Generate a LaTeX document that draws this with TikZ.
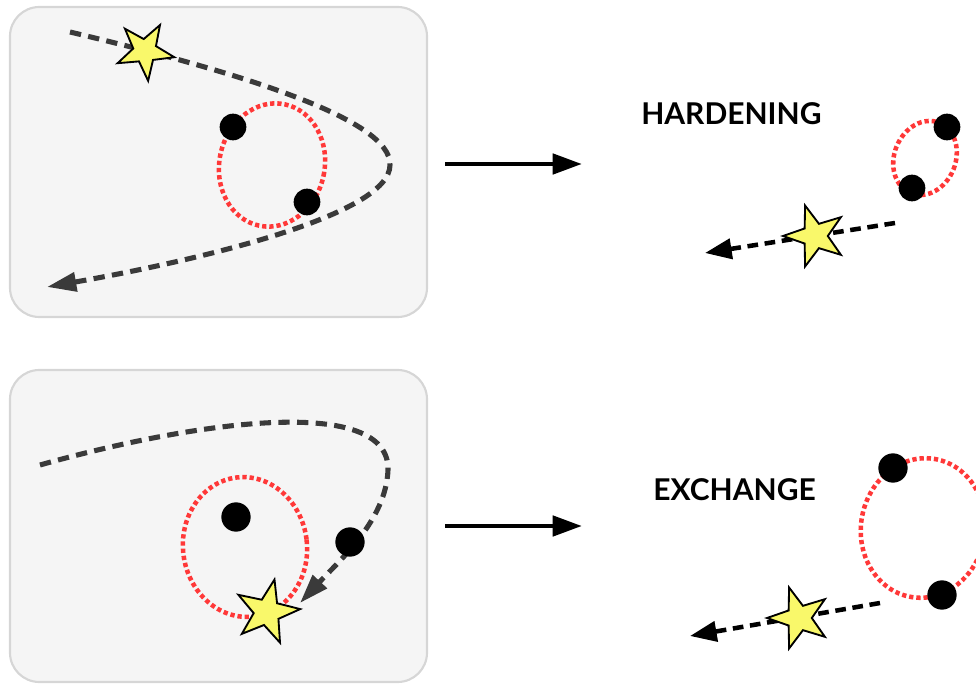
\documentclass[tikz,border=0pt]{standalone}
\usepackage{fontspec}
\setmainfont{Lato}
\usetikzlibrary{shapes.geometric,arrows.meta}

\definecolor{panelfill}{HTML}{F5F5F5}
\definecolor{panelline}{HTML}{D6D6D6}
\definecolor{pathgray}{HTML}{3A3A3A}
\definecolor{orbitred}{HTML}{FF3838}
\definecolor{staryellow}{HTML}{F9F86A}

\tikzset{
  panel/.style={fill=panelfill, draw=panelline, line width=1.6pt, rounded corners=22pt},
  orbit/.style={draw=orbitred, line width=3.4pt, dash pattern=on 3.2pt off 2.2pt, ellipse, inner sep=0pt},
  body/.style={circle, fill=black, inner sep=0pt, minimum size=#1},
  body/.default=20pt,
  intruder/.style={star, star points=5, star point ratio=2.5, draw=black, line width=1.4pt,
    fill=staryellow, inner sep=0pt, minimum size=#1},
  intruder/.default=44pt,
  track/.style={draw=pathgray, line width=3.8pt, dash pattern=on 8.5pt off 5.5pt,
    -{Triangle[length=22pt,width=14pt]}},
  escape/.style={draw=black, line width=3.4pt, dash pattern=on 8pt off 5pt,
    -{Triangle[length=20pt,width=15pt]}},
  outcome/.style={draw=black, line width=3.6pt, -{Triangle[length=22pt,width=15pt]}},
  caption/.style={font=\bfseries\fontsize{22.5}{26}\selectfont, inner sep=0pt}
}

\begin{document}
\begin{tikzpicture}[x=0.75pt,y=-0.75pt]
  \useasboundingbox (0,0) rectangle (976,684);
  \clip (0,0) rectangle (976,684);

  % ---- upper panel: fly-by of an intruder past a binary ----
  \draw[panel] (10,7) rectangle (427,317);
  \node[orbit, minimum width=79pt, minimum height=93pt, rotate=-12] (orbA) at (272,165) {};
  \node[body] (a1) at (233,127) {};
  \node[body] (a2) at (307,202) {};
  \coordinate (sA) at (70,32);
  \coordinate (tA) at (390,165);
  \coordinate (eA) at (47,287);
  \draw[track] (sA) .. controls (230,70) and (392,118) .. (tA)
               .. controls (390,215) and (200,260) .. (eA);
  \node[intruder=45pt, rotate=-30] (starA) at (145,51) {};

  % ---- lower panel: intruder captured into the binary ----
  \draw[panel] (10,370) rectangle (427,682);
  \node[orbit, minimum width=93pt, minimum height=105pt, rotate=7] (orbB) at (245,547) {};
  \node[body=22pt] (b1) at (236,517) {};
  \coordinate (sB) at (40,465);
  \coordinate (tB) at (388,470);
  \coordinate (eB) at (300,603);
  \draw[track] (sB) .. controls (200,420) and (390,395) .. (tB)
               .. controls (386,520) and (340,560) .. (eB);
  \node[body=22pt] (b2) at (350,542) {};
  \node[intruder=50pt, rotate=-13] (starB) at (267,612) {};

  % ---- arrows towards the outcomes ----
  \coordinate (fromA) at (445,164);
  \coordinate (toA) at (582,164);
  \draw[outcome] (fromA) -- (toA);
  \coordinate (fromB) at (445,526);
  \coordinate (toB) at (582,526);
  \draw[outcome] (fromB) -- (toB);

  % ---- outcome: hardening ----
  \node[caption, anchor=west] (lblA) at (641,114) {HARDENING};
  \node[orbit, minimum width=46pt, minimum height=57pt, rotate=-22] (orbC) at (925,158) {};
  \node[body] (c1) at (947,127) {};
  \node[body] (c2) at (912,188) {};
  \coordinate (sC) at (895,223);
  \coordinate (eC) at (705,253);
  \draw[escape] (sC) -- (eC);
  \node[intruder=48pt, rotate=18] (starC) at (815,236) {};

  % ---- outcome: exchange ----
  \node[caption, anchor=west] (lblB) at (653,490) {EXCHANGE};
  \node[orbit, minimum width=93pt, minimum height=105pt, rotate=-10] (orbD) at (923,528) {};
  \node[body=22pt] (d1) at (893,468) {};
  \node[body=22pt] (d2) at (942,595) {};
  \coordinate (sD) at (880,603);
  \coordinate (eD) at (690,636);
  \draw[escape] (sD) -- (eD);
  \node[intruder=48pt, rotate=18] (starD) at (799,618) {};
\end{tikzpicture}
\end{document}
